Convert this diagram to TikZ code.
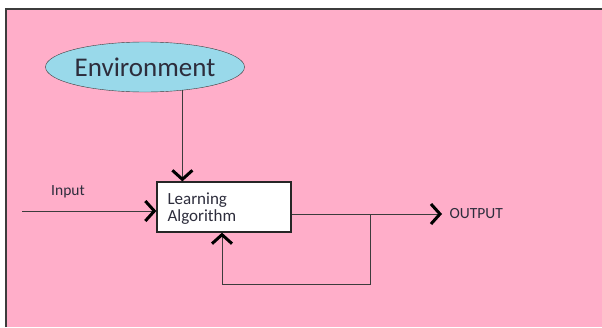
\documentclass[tikz,border=0pt]{standalone}
\usepackage{fontspec}
\setmainfont{Carlito}
\usetikzlibrary{arrows.meta,shapes.geometric}
\definecolor{rose}{RGB}{255,174,201}
\definecolor{turq}{RGB}{153,217,234}
\definecolor{ink}{RGB}{45,45,60}
\definecolor{linegray}{RGB}{60,60,60}
\begin{document}
\begin{tikzpicture}[x=1pt,y=-1pt,
    barb/.style={-{Straight Barb[length=9pt,width=20pt,line width=3pt,color=black]}},
    wire/.style={linegray, line width=1pt},
    envbox/.style={ellipse, draw=linegray, fill=turq, minimum width=190pt, minimum height=50pt, inner sep=0pt, font=\fontsize{27}{30}\selectfont, text=ink},
    algbox/.style={rectangle, draw=black!85, line width=1.3pt, fill=white, minimum width=134pt, minimum height=50pt, inner sep=0pt, text=ink},
    lbl/.style={text=ink, font=\fontsize{15.5}{17}\selectfont}]
 
    \useasboundingbox (0,0) rectangle (602,327);
    \fill[white] (0,0) rectangle (602,327);
    \fill[rose] (6,9) rectangle (602,327);
    \draw[wire, line width=1.5pt] (6,327) -- (6,9) -- (602,9);

    \node[envbox] (env) at (145,67) {Environment};
    \node[algbox] (alg) at (224,207) {};
    \node[lbl, font=\fontsize{17}{18}\selectfont, align=left, anchor=north west] (algtxt) at (164,189) {Learning\\[-1pt]Algorithm};
    \node[lbl] (inlbl) at (68,192) {Input};
    \node[lbl, anchor=west] (outlbl) at (446,214) {OUTPUT};

    \coordinate (in) at (22,211);
    \coordinate (split) at (370,214);
    \coordinate (outend) at (442,214);
    \coordinate (fb) at (222,284);

    % arrows into the box
    \draw[wire, barb] (env.-32) -- (env.-32 |- alg.north);
    \draw[wire, barb] (in) -- (in -| alg.west);
    \draw[wire, barb] (split) -- (split |- fb) -- (fb) -- (fb |- alg.south);
    % output
    \draw[wire, barb] (alg.east |- split) -- (outend);
    \end{tikzpicture}
\end{document}
